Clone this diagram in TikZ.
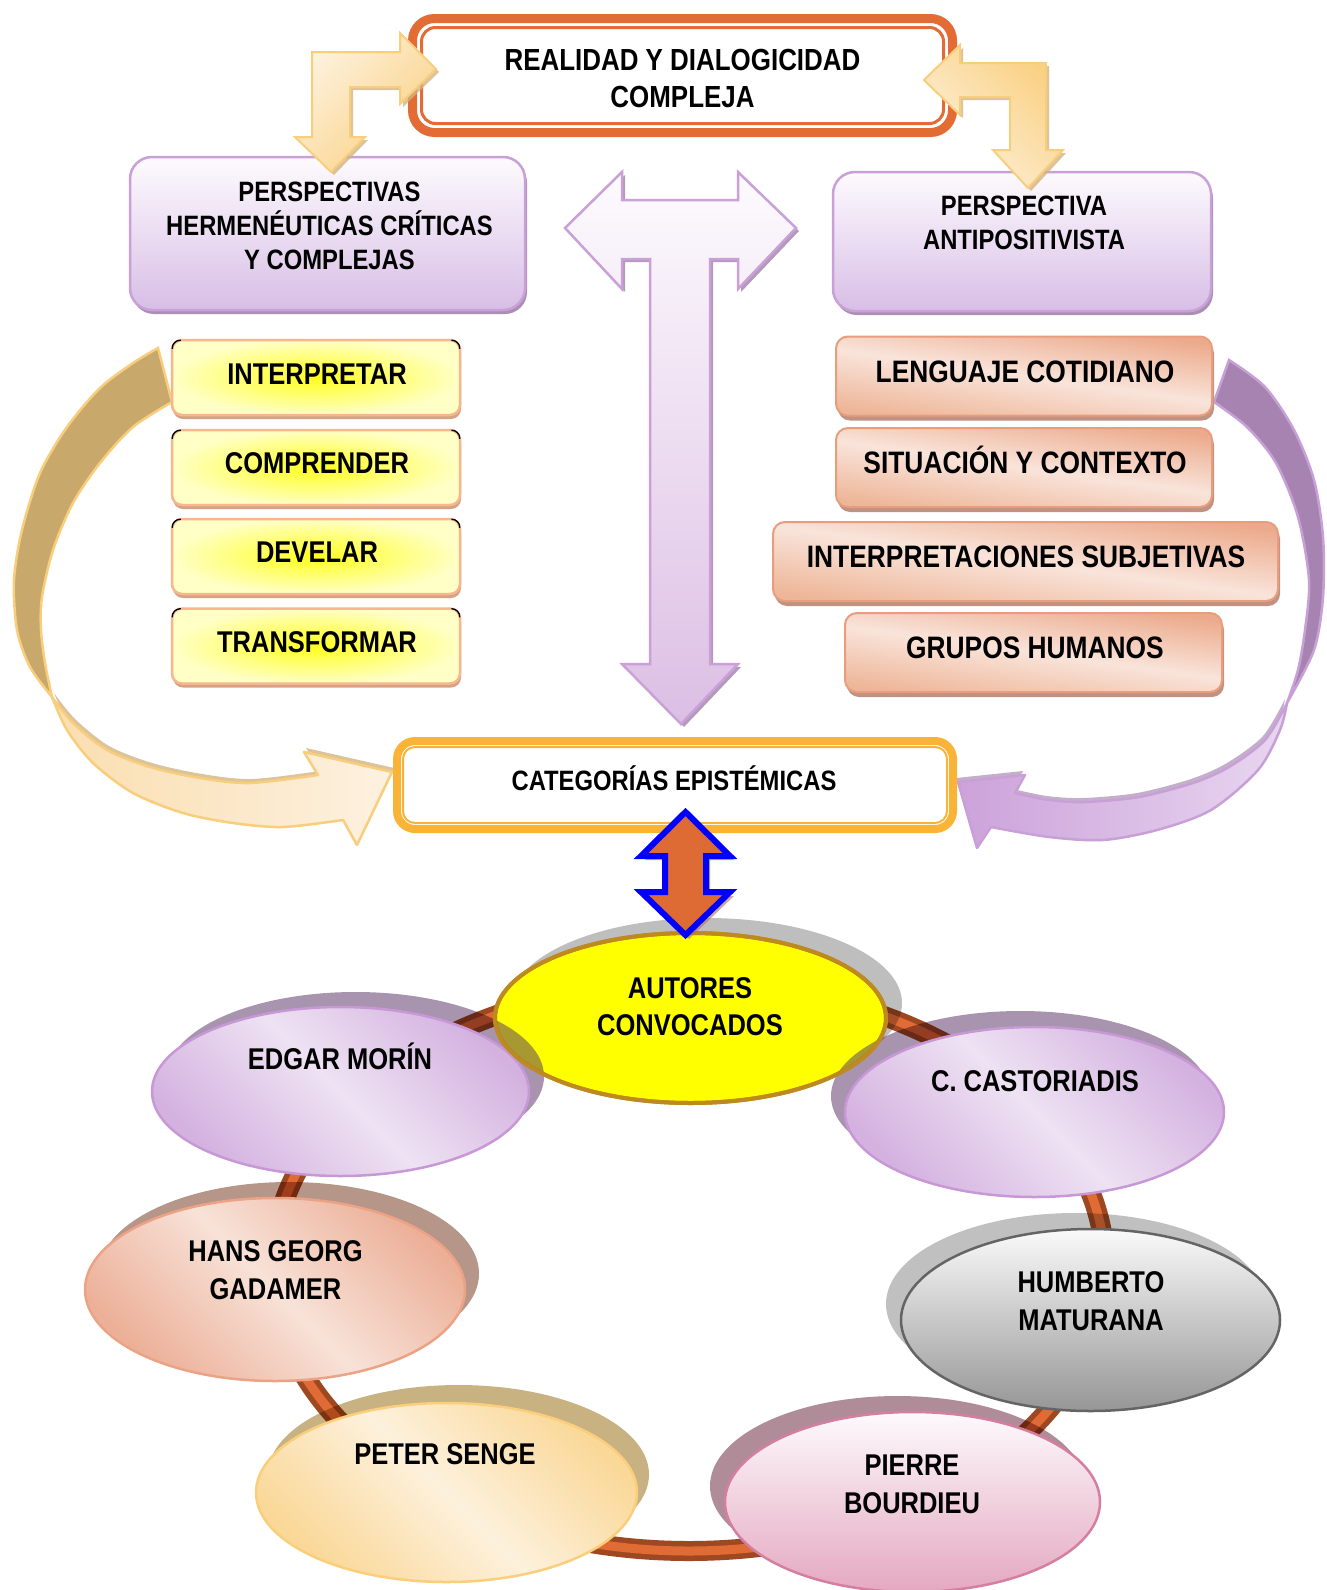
\documentclass[tikz,border=0pt]{standalone}
\usepackage{fontspec}
\setmainfont{Liberation Sans}[FakeStretch=0.85]
\usetikzlibrary{shapes.geometric,shadows,calc}

\definecolor{frameOrange}{RGB}{226,108,52}
\definecolor{ringOrange}{RGB}{224,107,52}
\definecolor{ringBrown}{RGB}{158,72,34}
\definecolor{catFrame}{RGB}{249,180,56}
\definecolor{lavTop}{RGB}{253,251,254}
\definecolor{lavBot}{RGB}{216,190,230}
\definecolor{lavLine}{RGB}{201,160,216}
\definecolor{lavShadow}{RGB}{172,142,180}
\definecolor{tBottom}{RGB}{220,190,228}
\definecolor{creamL}{RGB}{253,242,222}
\definecolor{creamD}{RGB}{250,208,130}
\definecolor{creamLine}{RGB}{248,206,125}
\definecolor{creamShadow}{RGB}{212,180,128}
\definecolor{tanBack}{RGB}{201,168,108}
\definecolor{tanFrontA}{RGB}{250,222,175}
\definecolor{tanFrontB}{RGB}{253,241,224}
\definecolor{mauveBack}{RGB}{166,131,176}
\definecolor{mauveL}{RGB}{232,214,240}
\definecolor{mauveD}{RGB}{204,162,218}
\definecolor{mauveLine}{RGB}{200,160,215}
\definecolor{glowIn}{RGB}{255,255,30}
\definecolor{glowOut}{RGB}{255,255,198}
\definecolor{glowLine}{RGB}{247,182,140}
\definecolor{glowShadow}{RGB}{214,162,132}
\definecolor{salTop}{RGB}{236,170,140}
\definecolor{salMid}{RGB}{249,228,218}
\definecolor{salBot}{RGB}{238,182,152}
\definecolor{salLine}{RGB}{232,158,126}
\definecolor{salShadow}{RGB}{192,146,130}
\definecolor{arrowBlue}{RGB}{0,0,255}
\definecolor{arrowFill}{RGB}{222,106,52}
\definecolor{arrowShadow}{RGB}{170,112,92}
\definecolor{autYellow}{RGB}{255,255,0}
\definecolor{autLine}{RGB}{190,138,32}
\definecolor{autShadow}{RGB}{190,190,190}
\definecolor{tintDark}{RGB}{80,50,100}
\definecolor{lilacL}{RGB}{238,226,243}
\definecolor{lilacD}{RGB}{212,178,224}
\definecolor{lilacLine}{RGB}{200,152,214}
\definecolor{lilacShadow}{RGB}{168,148,175}
\definecolor{peachL}{RGB}{248,226,216}
\definecolor{peachD}{RGB}{236,176,152}
\definecolor{peachLine}{RGB}{236,162,132}
\definecolor{peachShadow}{RGB}{183,150,138}
\definecolor{sandL}{RGB}{253,241,220}
\definecolor{sandD}{RGB}{250,216,152}
\definecolor{sandLine}{RGB}{250,206,122}
\definecolor{sandShadow}{RGB}{200,178,130}
\definecolor{greyTop}{RGB}{250,250,250}
\definecolor{greyBot}{RGB}{150,150,150}
\definecolor{greyLine}{RGB}{100,100,100}
\definecolor{greyShadow}{RGB}{192,192,192}
\definecolor{roseTop}{RGB}{253,250,252}
\definecolor{roseBot}{RGB}{228,168,192}
\definecolor{roseLine}{RGB}{214,126,160}
\definecolor{roseShadow}{RGB}{175,140,152}

\tikzset{
  % multi-line labels are placed by the baseline of their last line
  txt/.style={anchor=base, align=center, inner sep=0pt, font=\fontsize{30}{37}\selectfont\bfseries},
  txtsmall/.style={txt, font=\fontsize{28}{34}\selectfont\bfseries},
  lavbox/.style={rounded corners=22, draw=lavLine, line width=2.5, top color=lavTop, bottom color=lavBot,
    drop shadow={shadow xshift=2pt, shadow yshift=-4pt, fill=lavShadow, opacity=1}},
  glowbox/.style={rounded corners=10, minimum width=288, minimum height=75, inner color=glowIn, outer color=glowOut,
    draw=glowLine, line width=2.5, drop shadow={shadow xshift=1pt, shadow yshift=-4pt, fill=glowShadow, opacity=1}},
  salbox/.style={rounded corners=12, minimum height=79, top color=salTop, bottom color=salBot, middle color=salMid,
    shading angle=-8, draw=salLine, line width=2,
    drop shadow={shadow xshift=2pt, shadow yshift=-5pt, fill=salShadow, opacity=1}},
  oval/.style={ellipse, inner sep=0pt, line width=2.5},
  ovalshadow/.style n args={3}{drop shadow={shadow xshift=#1, shadow yshift=#2, fill=#3, opacity=1, blend mode=multiply}},
  diagshade/.style n args={3}{top color=#1, bottom color=#3, middle color=#2, shading angle=-45},
  tick/.style={black, line width=1.3, rounded corners=8},
}

\begin{document}
\begin{tikzpicture}[x=1pt,y=-1pt]
\useasboundingbox (0,0) rectangle (1326,1590);
\fill[white] (0,0) rectangle (1326,1590);

% ---------- top frame ----------
\node[draw=frameOrange, line width=9, rounded corners=22, fill=white, minimum width=540, minimum height=114] (real) at (682.5,75.5) {};
\draw[frameOrange, line width=3, rounded corners=14] ($(real.north west)+(13.5,13.5)$) rectangle ($(real.south east)+(-13.5,-13.5)$);
\node[txt, font=\fontsize{30.5}{37}\selectfont\bfseries] (realtxt) at (682.5,107) {REALIDAD Y DIALOGICIDAD\\COMPLEJA};

% ---------- perspective boxes ----------
\node[lavbox, minimum width=395, minimum height=153] (herm) at (327.5,233.5) {};
\node[txtsmall] (hermtxt) at (329.5,269) {PERSPECTIVAS\\HERMENÉUTICAS CRÍTICAS\\Y COMPLEJAS};
\node[lavbox, minimum width=378, minimum height=139] (anti) at (1022,241.5) {};
\node[txtsmall] (antitxt) at (1024,249) {PERSPECTIVA\\ANTIPOSITIVISTA};

% ---------- bent arrows from the top frame ----------
\path[fill=creamShadow, opacity=0.8] (315,140) -- (315,55) -- (403,55) -- (403,36) -- (439,72) -- (403,107) -- (403,90) -- (353,90) -- (353,140) -- (368,140) -- (334,175) -- (298,140) -- cycle;
\path[top color=creamL, bottom color=creamD, shading angle=45, draw=creamLine, line width=2]
  (312,137) -- (312,52) -- (400,52) -- (400,33) -- (436,69) -- (400,104) -- (400,87) -- (350,87) -- (350,137) -- (365,137) -- (331,172) -- (295,137) -- cycle;
\path[fill=creamShadow, opacity=0.8] (1049,153) -- (1049,66) -- (963,66) -- (963,48) -- (927,83) -- (963,118) -- (963,100) -- (1013,100) -- (1013,153) -- (996,153) -- (1031,191) -- (1066,153) -- cycle;
\path[top color=creamD, bottom color=creamL, shading angle=-45, draw=creamLine, line width=2]
  (1046,150) -- (1046,63) -- (960,63) -- (960,45) -- (924,80) -- (960,115) -- (960,97) -- (1010,97) -- (1010,150) -- (993,150) -- (1028,188) -- (1063,150) -- cycle;

% ---------- T arrow ----------
\path[fill=lavShadow, opacity=0.9] (568,231) -- (625,175) -- (625,203) -- (741,203) -- (741,175) -- (799,231) -- (741,292) -- (741,262) -- (713,262) -- (713,667) -- (741,667) -- (684,727) -- (625,667) -- (653,667) -- (653,262) -- (625,262) -- (625,292) -- cycle;
\path[top color=lavTop, bottom color=tBottom, draw=lavLine, line width=2.5]
  (565,228) -- (622,172) -- (622,200) -- (738,200) -- (738,172) -- (796,228) -- (738,289) -- (738,259) -- (710,259) -- (710,664) -- (738,664) -- (681,724) -- (622,664) -- (650,664) -- (650,259) -- (622,259) -- (622,289) -- cycle;

% ---------- curved arrow, left ----------
\path[fill=tanBack, draw=creamLine, line width=2.5]
  plot[smooth] coordinates {(158,348) (133,363) (100,388) (67,427) (40,473) (22,530) (14,580) (17,630) (30,667) (52,697)}
  -- plot[smooth] coordinates {(52,697) (45,663) (41,630) (42,597) (53,550) (73,503) (100,463) (133,427) (172,402)}
  -- cycle;
\path[fill=creamShadow, opacity=0.8, xshift=2, yshift=4]
  plot[smooth] coordinates {(52,697) (73,723) (107,750) (150,767) (200,778) (250,783) (318,775)} -- (304,752) -- (392,772) -- (357,845)
  -- plot[smooth] coordinates {(343,820) (283,827) (233,823) (183,813) (133,793) (93,763) (67,730) (52,697)} -- cycle;
\path[left color=tanFrontA, right color=tanFrontB, draw=creamLine, line width=2.5, line join=round]
  plot[smooth] coordinates {(52,697) (73,723) (107,750) (150,767) (200,778) (250,783) (318,775)} -- (304,752) -- (392,772) -- (357,845)
  -- plot[smooth] coordinates {(343,820) (283,827) (233,823) (183,813) (133,793) (93,763) (67,730) (52,697)} -- cycle;

% ---------- curved arrow, right ----------
\path[fill=mauveBack, draw=mauveLine, line width=2.5]
  plot[smooth] coordinates {(1229,360) (1265,387) (1294,430) (1314,480) (1323,537) (1323,597) (1314,650) (1287,703)}
  -- plot[smooth] coordinates {(1287,703) (1298,670) (1305,630) (1309,580) (1298,517) (1276,463) (1247,427) (1214,402)}
  -- cycle;
\path[fill=lavShadow, opacity=0.7, xshift=-2, yshift=4]
  plot[smooth] coordinates {(1287,703) (1265,740) (1229,767) (1193,783) (1139,797) (1085,802) (1049,800) (1015,793)} -- (1025,775) -- (958,782) -- (977,848)
  -- plot[smooth] coordinates {(991,827) (1049,837) (1103,840) (1157,830) (1211,810) (1258,770) (1280,730) (1287,703)} -- cycle;
\path[left color=mauveD, right color=mauveL, draw=mauveLine, line width=2.5, line join=round]
  plot[smooth] coordinates {(1287,703) (1265,740) (1229,767) (1193,783) (1139,797) (1085,802) (1049,800) (1015,793)} -- (1025,775) -- (958,782) -- (977,848)
  -- plot[smooth] coordinates {(991,827) (1049,837) (1103,840) (1157,830) (1211,810) (1258,770) (1280,730) (1287,703)} -- cycle;

% ---------- verbs (left column) ----------
\node[glowbox] (interp) at (316,377.5) {};
\node[glowbox] (compr) at (316,467.5) {};
\node[glowbox] (devel) at (316,556.5) {};
\node[glowbox] (transf) at (316,646) {};
\foreach \b in {interp,compr,devel,transf} {
  \draw[tick] ($(\b.north west)+(1.5,10)$) -- ($(\b.north west)+(1.5,1.5)$) -- ($(\b.north west)+(10,1.5)$);
  \draw[tick] ($(\b.north east)+(-1.5,10)$) -- ($(\b.north east)+(-1.5,1.5)$) -- ($(\b.north east)+(-10,1.5)$);
}
\node[txt] (interptxt) at (317,384) {INTERPRETAR};
\node[txt] (comprtxt) at (317,473) {COMPRENDER};
\node[txt] (develtxt) at (317,562) {DEVELAR};
\node[txt] (transftxt) at (317,652) {TRANSFORMAR};

% ---------- notions (right column) ----------
\node[salbox, minimum width=376] (leng) at (1024,376) {};
\node[salbox, minimum width=376] (situ) at (1024,467.5) {};
\node[salbox, minimum width=505] (subj) at (1025.5,561.5) {};
\node[salbox, minimum width=377] (grup) at (1033.5,652.5) {};
\node[txt, font=\fontsize{31}{37}\selectfont\bfseries] (lengtxt) at (1025,382) {LENGUAJE COTIDIANO};
\node[txt, font=\fontsize{31}{37}\selectfont\bfseries] (situtxt) at (1025,473) {SITUACIÓN Y CONTEXTO};
\node[txt, font=\fontsize{31}{37}\selectfont\bfseries] (subjtxt) at (1026,567) {INTERPRETACIONES SUBJETIVAS};
\node[txt, font=\fontsize{31}{37}\selectfont\bfseries] (gruptxt) at (1035,658) {GRUPOS HUMANOS};

% ---------- epistemic categories ----------
\node[draw=catFrame, line width=8, rounded corners=18, fill=white, minimum width=556, minimum height=88] (cat) at (675,785) {};
\draw[catFrame, line width=2, rounded corners=12] ($(cat.north west)+(10,10)$) rectangle ($(cat.south east)+(-10,-10)$);
\node[txtsmall] (cattxt) at (674,790) {CATEGORÍAS EPISTÉMICAS};

% ---------- ring of authors ----------
\coordinate (ringc) at (689,1267);
\draw[ringBrown, line width=20] (ringc) ellipse [x radius=416pt, y radius=284pt];
\draw[ringOrange, line width=9] (ringc) ellipse [x radius=416pt, y radius=284pt];

\node[oval, minimum width=377, minimum height=169, draw=lilacLine, diagshade={lilacD}{lilacL}{lilacD}, ovalshadow={15pt}{15pt}{lilacShadow}] (edgar) at (340.5,1091.5) {};
\node[oval, minimum width=379, minimum height=170, draw=lilacLine, diagshade={lilacD}{lilacL}{lilacD}, ovalshadow={-14pt}{16pt}{lilacShadow}] (casto) at (1034.5,1112) {};
\node[oval, minimum width=380, minimum height=183, draw=peachLine, diagshade={peachD}{peachL}{peachD}, ovalshadow={14pt}{16pt}{peachShadow}] (gadam) at (275,1289.5) {};
\node[oval, minimum width=379, minimum height=182, draw=greyLine, top color=greyTop, bottom color=greyBot, ovalshadow={-15pt}{16pt}{greyShadow}] (matur) at (1090.5,1320) {};
\node[oval, minimum width=381, minimum height=179, draw=sandLine, diagshade={sandD}{sandL}{sandD}, ovalshadow={12pt}{18pt}{sandShadow}] (senge) at (446.5,1492.5) {};
\node[oval, minimum width=375, minimum height=180, draw=roseLine, top color=roseTop, bottom color=roseBot, ovalshadow={-15pt}{16pt}{roseShadow}] (bourd) at (912.5,1502) {};

% ---------- central oval ----------
\node[oval, minimum width=391, minimum height=170, fill=autYellow, draw=autLine, line width=4, ovalshadow={16pt}{15pt}{autShadow}] (autores) at (690.5,1018) {};
\begin{scope}
  \clip (autores.center) ellipse [x radius=195.5pt, y radius=85pt];
  \fill[tintDark, opacity=0.5] (355.5,1076.5) ellipse [x radius=188.5pt, y radius=84.5pt]
                               (edgar.center) ellipse [x radius=188.5pt, y radius=84.5pt]
                               (1020.5,1096) ellipse [x radius=189.5pt, y radius=85pt]
                               (casto.center) ellipse [x radius=189.5pt, y radius=85pt];
\end{scope}
\draw[autLine, line width=4] (autores.center) ellipse [x radius=195.5pt, y radius=85pt];

% ---------- double arrow ----------
\path[fill=arrowShadow, opacity=0.6] (689,816) -- (734,860) -- (710,860) -- (710,896) -- (734,896) -- (689,939) -- (645,896) -- (669,896) -- (669,860) -- (645,860) -- cycle;
\path[fill=arrowFill, draw=arrowBlue, line width=6, line join=miter]
  (685.5,812) -- (730,856) -- (706,856) -- (706,892) -- (730,892) -- (685.5,935) -- (641,892) -- (665,892) -- (665,856) -- (641,856) -- cycle;

% ---------- author names ----------
\node[txt] (autorestxt) at (690,1035) {AUTORES\\CONVOCADOS};
\node[txt] (edgartxt) at (340,1069) {EDGAR MORÍN};
\node[txt] (castotxt) at (1035,1091) {C. CASTORIADIS};
\node[txt, font=\fontsize{30}{38}\selectfont\bfseries] (gadamtxt) at (275.5,1299) {HANS GEORG\\GADAMER};
\node[txt, font=\fontsize{30}{38}\selectfont\bfseries] (maturtxt) at (1091,1330) {HUMBERTO\\MATURANA};
\node[txt] (sengetxt) at (445,1464) {PETER SENGE};
\node[txt, font=\fontsize{30}{38}\selectfont\bfseries] (bourdtxt) at (912,1513) {PIERRE\\BOURDIEU};

\end{tikzpicture}
\end{document}
